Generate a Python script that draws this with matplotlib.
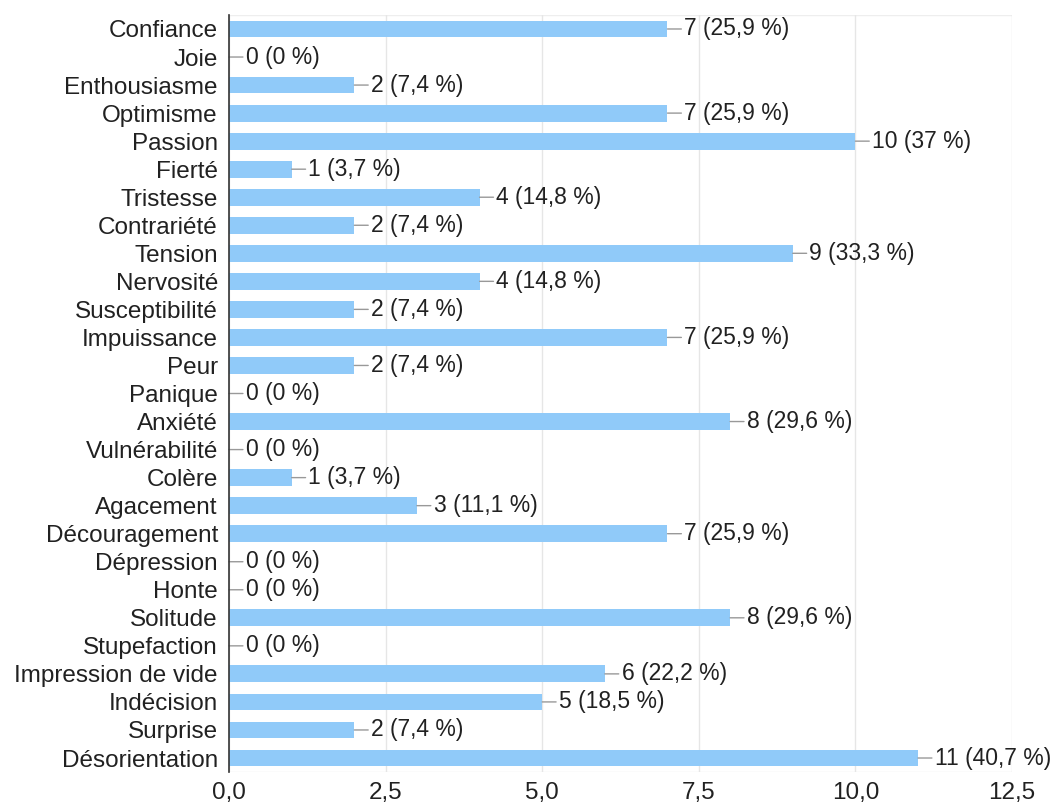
import matplotlib.pyplot as plt

# Données
emotions = ['Confiance', 'Joie', 'Enthousiasme', 'Optimisme', 'Passion', 'Fierté',
            'Tristesse', 'Contrariété', 'Tension', 'Nervosité', 'Susceptibilité',
            'Impuissance', 'Peur', 'Panique', 'Anxiété', 'Vulnérabilité', 'Colère',
            'Agacement', 'Découragement', 'Dépression', 'Honte', 'Solitude',
            'Stupefaction', 'Impression de vide', 'Indécision', 'Surprise',
            'Désorientation']
nombres = [7, 0, 2, 7, 10, 1, 4, 2, 9, 4, 2, 7, 2, 0, 8, 0, 1, 3, 7, 0, 0, 8, 0, 6, 5, 2, 11]
pourcents = ['25,9', '0', '7,4', '25,9', '37', '3,7', '14,8', '7,4', '33,3', '14,8', '7,4',
             '25,9', '7,4', '0', '29,6', '0', '3,7', '11,1', '25,9', '0', '0', '29,6', '0',
             '22,2', '18,5', '7,4', '40,7']
xticks = [0, 2.5, 5, 7.5, 10, 12.5]
xticklabels = ['0,0', '2,5', '5,0', '7,5', '10,0', '12,5']

plt.rcParams['font.family'] = ['Liberation Sans', 'DejaVu Sans']

fig = plt.figure(figsize=(10.56, 8.09), dpi=100)
ax = fig.add_axes([0.2169, 0.0457, 0.7414, 0.9358])

pos = list(range(len(emotions)))
ax.barh(pos, nombres, height=0.6, color='#90caf9', zorder=2)

for i in pos:
    ax.annotate(f"{nombres[i]} ({pourcents[i]} %)", xy=(nombres[i], i),
                xytext=(12, 0), textcoords='offset points', ha='left', va='center',
                fontsize=16.5, color='#212121',
                arrowprops=dict(arrowstyle='-', color='#999999', lw=1,
                                shrinkA=0, shrinkB=0))

ax.set_ylim(len(emotions) - 0.5, -0.5)
ax.set_xlim(0, 12.5)
ax.set_yticks(pos)
ax.set_yticklabels(emotions, fontsize=17.5, color='#212121')
ax.set_xticks(xticks)
ax.set_xticklabels(xticklabels, fontsize=17.5, color='#212121')
ax.tick_params(axis='both', length=0)
ax.tick_params(axis='y', pad=8)
ax.tick_params(axis='x', pad=7)

ax.grid(axis='x', color='#e6e6e6', lw=1, zorder=0)
for s in ['top', 'right', 'bottom']:
    ax.spines[s].set_visible(False)
ax.axhline(len(emotions) - 0.5, color='#eeeeee', lw=1, zorder=0)
ax.axhline(-0.5, color='#eeeeee', lw=1, zorder=0)
ax.spines['left'].set_color('#333333')
ax.spines['left'].set_linewidth(1.2)
ax.spines['left'].set_zorder(3)

fig.savefig('out.png', dpi=100)
